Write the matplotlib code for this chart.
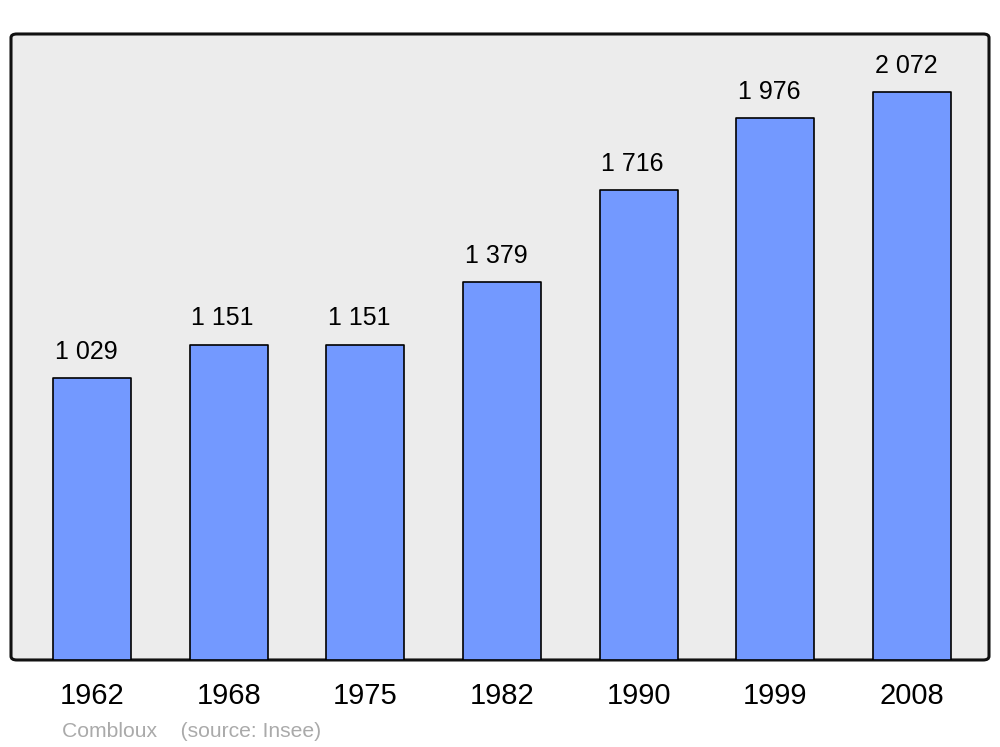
import matplotlib
matplotlib.use('Agg')
import matplotlib.pyplot as plt
from matplotlib.patches import FancyBboxPatch

plt.rcParams['font.family'] = ['Liberation Sans', 'DejaVu Sans']

years = ['1962', '1968', '1975', '1982', '1990', '1999', '2008']
population = [1029, 1151, 1151, 1379, 1716, 1976, 2072]
labels = ['1 029', '1 151', '1 151', '1 379', '1 716', '1 976', '2 072']

fig = plt.figure(figsize=(10, 7.47), dpi=100)
ax = fig.add_axes([0.011, 0.1165, 0.978, 0.838])
ax.set_facecolor('none')

# rounded frame with grey fill
frame = FancyBboxPatch((0, 0), 1, 1, boxstyle='round,pad=0,rounding_size=0.006',
                       transform=ax.transAxes, facecolor='#ececec',
                       edgecolor='#111111', linewidth=2.2, zorder=0, clip_on=False)
ax.add_patch(frame)
for s in ax.spines.values():
    s.set_visible(False)

x = range(len(years))
bars = ax.bar(x, population, width=0.57, color='#7399ff', edgecolor='black',
              linewidth=1.2, zorder=2)
for b in bars:
    b.set_joinstyle('round')

for xi, v, lab in zip(x, population, labels):
    ax.annotate(lab, (xi, v), xytext=(-4.3, 13.7), textcoords='offset points',
                ha='center', va='baseline', fontsize=18)

ax.set_xlim(-0.593, 6.563)
ax.set_ylim(0, 2284)
ax.set_yticks([])
ax.set_xticks(list(x))
ax.set_xticklabels(years, fontsize=21)
ax.tick_params(axis='x', length=0, pad=16)

fig.text(0.062, 0.0134, 'Combloux    (source: Insee)', color='#aaaaaa',
         fontsize=15.2, ha='left', va='baseline')

fig.savefig('out.png', dpi=100)
